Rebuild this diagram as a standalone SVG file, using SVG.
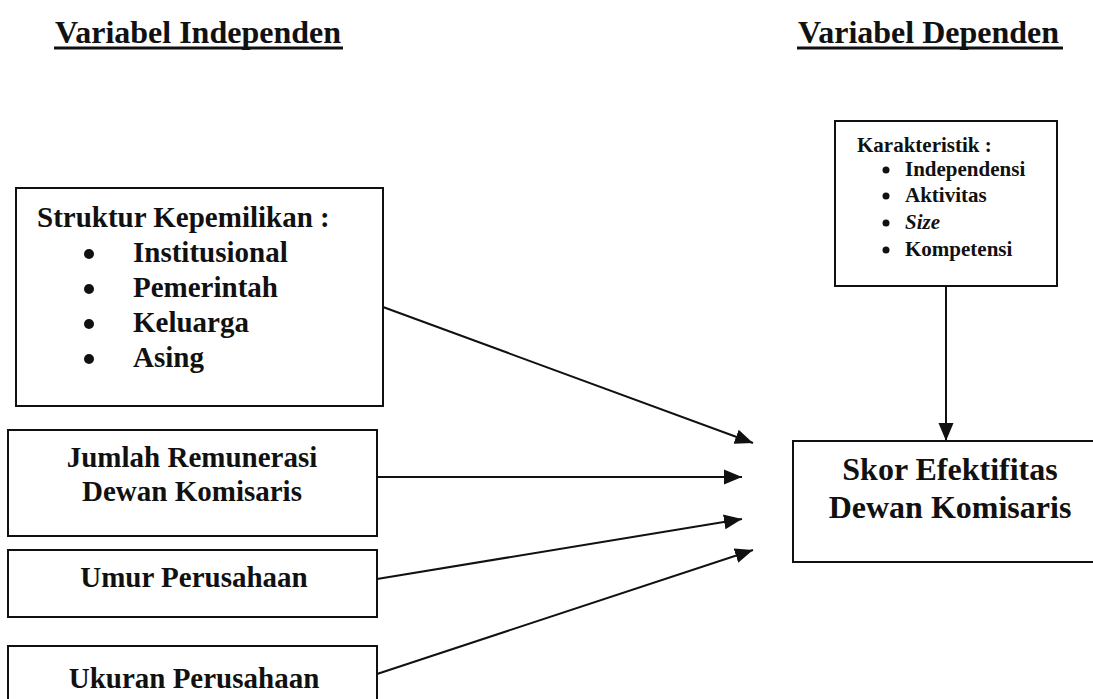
<svg xmlns="http://www.w3.org/2000/svg" width="1093" height="699" viewBox="0 0 1093 699">
  <style>
    text { font-family: "Liberation Serif", "Times New Roman", serif; font-weight: bold; fill: #111; }
    .h { font-size: 32px; }
    .m { font-size: 29px; }
    .s { font-size: 21px; }
    .box { fill: none; stroke: #111; stroke-width: 2; }
    .conn { stroke: #111; stroke-width: 2; fill: none; marker-end: url(#arr); }
    .dot { fill: #111; }
  </style>
  <defs>
    <marker id="arr" markerUnits="userSpaceOnUse" markerWidth="20" markerHeight="16" refX="18" refY="8" orient="auto">
      <path d="M0,0.5 L18,8 L0,15.5 Z" fill="#111"/>
    </marker>
  </defs>
  <rect width="1093" height="699" fill="#fff"/>

  <g id="title-independen">
    <text class="h" x="55" y="43">Variabel Independen</text>
    <rect x="54" y="46.5" width="289" height="3" fill="#111"/>
  </g>
  <g id="title-dependen">
    <text class="h" x="798" y="43">Variabel Dependen</text>
    <rect x="797" y="46.5" width="266" height="3" fill="#111"/>
  </g>

  <g id="node-karakteristik">
    <rect class="box" x="835" y="121" width="222" height="165"/>
    <text class="s" x="857" y="152">Karakteristik :</text>
    <circle class="dot" cx="886" cy="170" r="3.5"/>
    <text class="s" x="905" y="176">Independensi</text>
    <circle class="dot" cx="886" cy="196" r="3.5"/>
    <text class="s" x="905" y="202">Aktivitas</text>
    <circle class="dot" cx="886" cy="223" r="3.5"/>
    <text class="s" x="905" y="229" font-style="italic">Size</text>
    <circle class="dot" cx="886" cy="250" r="3.5"/>
    <text class="s" x="905" y="256">Kompetensi</text>
  </g>

  <g id="node-struktur">
    <rect class="box" x="16" y="188" width="367" height="218"/>
    <text class="m" x="37" y="227">Struktur Kepemilikan :</text>
    <circle class="dot" cx="89" cy="254" r="5"/>
    <text class="m" x="133" y="262">Institusional</text>
    <circle class="dot" cx="89" cy="289" r="5"/>
    <text class="m" x="133" y="297">Pemerintah</text>
    <circle class="dot" cx="89" cy="324" r="5"/>
    <text class="m" x="133" y="332">Keluarga</text>
    <circle class="dot" cx="89" cy="359" r="5"/>
    <text class="m" x="133" y="367">Asing</text>
  </g>

  <g id="node-jumlah">
    <rect class="box" x="8" y="430" width="369" height="106"/>
    <text class="m" x="192" y="467" text-anchor="middle">Jumlah Remunerasi</text>
    <text class="m" x="192" y="501" text-anchor="middle">Dewan Komisaris</text>
  </g>

  <g id="node-umur">
    <rect class="box" x="8" y="550" width="369" height="67"/>
    <text class="m" x="194" y="587" text-anchor="middle">Umur Perusahaan</text>
  </g>

  <g id="node-ukuran">
    <rect class="box" x="8" y="646" width="369" height="80"/>
    <text class="m" x="194" y="688" text-anchor="middle">Ukuran Perusahaan</text>
  </g>

  <g id="node-skor">
    <rect class="box" x="793" y="441" width="320" height="121"/>
    <text class="h" x="950" y="480" text-anchor="middle">Skor Efektifitas</text>
    <text class="h" x="950" y="518" text-anchor="middle">Dewan Komisaris</text>
  </g>

  <g id="connectors">
    <line class="conn" x1="383" y1="307" x2="753" y2="443"/>
    <line class="conn" x1="377" y1="477" x2="742" y2="477"/>
    <line class="conn" x1="377" y1="579" x2="742" y2="519"/>
    <line class="conn" x1="377" y1="674" x2="753" y2="550"/>
    <line class="conn" x1="946" y1="286" x2="946" y2="441"/>
  </g>
</svg>
